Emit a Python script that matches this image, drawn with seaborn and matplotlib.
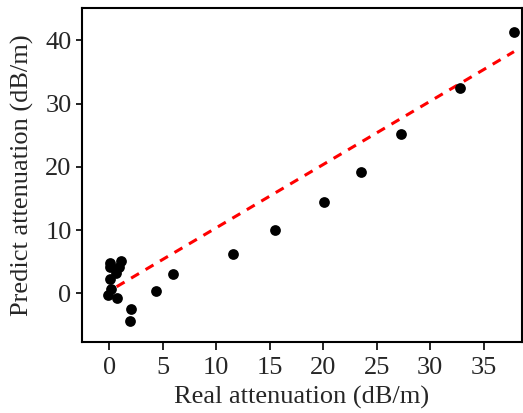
import numpy as np
import pandas as pd
import seaborn as sns
import matplotlib.pyplot as plt

real = [37.85, 32.8, 27.3, 23.5, 20.1, 15.5, 11.56, 5.95, 4.36, 2.06, 1.93,
        0.72, -0.09, 0.12, 0.06, 0.6, 0.03, 0.03, 0.93, 1.08]
pred = [41.3, 32.5, 25.2, 19.2, 14.4, 10.0, 6.16, 3.0, 0.3, -2.48, -4.37,
        -0.74, -0.2, 0.73, 2.2, 3.26, 4.2, 4.74, 4.2, 5.1]
fit_x = [0.69, 37.85]
fit_y = [1.04, 38.2]

df = pd.DataFrame({'real': real, 'pred': pred})

sns.set_style('ticks')
plt.rcParams['font.family'] = ['Liberation Serif', 'DejaVu Serif']

fig, ax = plt.subplots(figsize=(5.23, 4.13), dpi=100)
sns.lineplot(x=fit_x, y=fit_y, color='red', linestyle=(0, (3, 2.5)), linewidth=2.2, ax=ax)
sns.scatterplot(data=df, x='real', y='pred', color='black', s=60, edgecolor='black', linewidth=0, ax=ax, zorder=3)

ax.set_xlim(-2.55, 38.6)
ax.set_ylim(-7.7, 45.1)
ax.set_xticks(range(0, 36, 5))
ax.set_yticks(range(0, 41, 10))
ax.tick_params(labelsize=19, width=1.2, color='black')
ax.tick_params(axis='x', length=6, pad=5)
ax.tick_params(axis='y', length=4.5, pad=3)
for sp in ax.spines.values():
    sp.set_linewidth(1.5)
    sp.set_color('black')
    sp.set_visible(True)
ax.set_xlabel('Real attenuation (dB/m)', fontsize=19, labelpad=5)
ax.set_ylabel('Predict attenuation (dB/m)', fontsize=19, labelpad=8)

fig.subplots_adjust(left=82/523, right=522/523, top=1-8/413, bottom=1-342/413)
fig.savefig('out.png', dpi=100)
